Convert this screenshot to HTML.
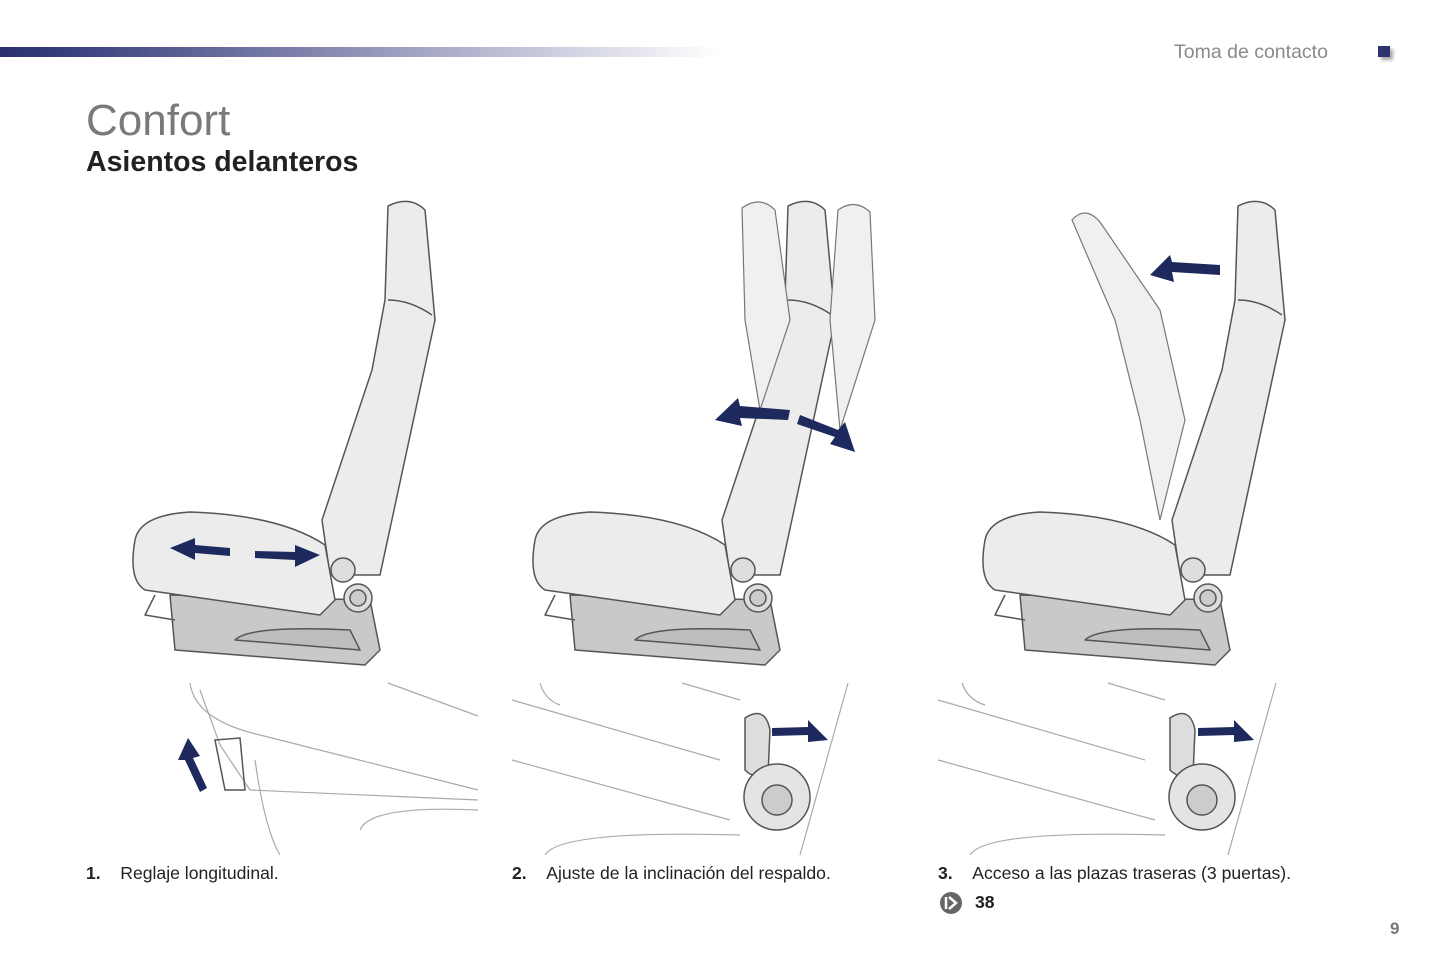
<!DOCTYPE html>
<html><head><meta charset="utf-8"><style>
body{margin:0;width:1445px;height:964px;background:#fff;position:relative;overflow:hidden;font-family:"Liberation Sans",sans-serif}
.t{position:absolute;white-space:nowrap}
</style></head><body>
<div style="position:absolute;left:0;top:47px;width:720px;height:10px;background:linear-gradient(90deg,#2a2f6e 0%,#3a3f7e 10%,#7a7ea8 40%,#c8c9dc 75%,#fff 100%)"></div>
<div class="t" style="left:1174px;top:41px;font-size:19.5px;color:#8a8a8a">Toma de contacto</div>
<div style="position:absolute;left:1378px;top:46px;width:12px;height:11px;background:#2f3470;box-shadow:3px 3px 3px #aaa"></div>
<div class="t" style="left:86px;top:96px;font-size:44px;color:#7a7a7a">Confort</div>
<div class="t" style="left:86px;top:146px;font-size:28.5px;font-weight:bold;color:#222">Asientos delanteros</div>

<svg width="1445" height="964" style="position:absolute;left:0;top:0">
<defs>
<g id="seat" stroke="#555" stroke-width="1.5" stroke-linejoin="round">
  <path d="M170,595 L370,600 L380,650 L365,665 L175,650 Z" fill="#c9c9c9"/>
  <path d="M235,640 Q250,625 350,630 L360,650 Z" fill="#bdbdbd"/>
  <path d="M155,595 L145,615 L175,620" fill="none"/>
  <path d="M388,206 Q410,195 425,210 L435,320 L380,575 L330,575 L322,520 L372,370 L385,300 Z" fill="#ececec"/>
  <path d="M388,300 Q410,300 432,315" fill="none"/>
  <path d="M135,540 Q140,515 190,512 Q280,515 325,545 L335,600 L320,615 L145,590 Q128,580 135,540 Z" fill="#ececec"/>
  <circle cx="343" cy="570" r="12" fill="#ddd"/>
  <circle cx="358" cy="598" r="14" fill="#ddd"/>
  <circle cx="358" cy="598" r="8" fill="#ccc"/>
</g>
</defs>
<use href="#seat"/>
<use href="#seat" transform="translate(400,0)"/>
<use href="#seat" transform="translate(850,0)"/>
<g fill="#f0f0f0" stroke="#777" stroke-width="1.2">
 <path d="M742,208 Q760,195 775,210 L790,320 L760,410 L745,320 Z"/>
 <path d="M838,210 Q855,198 870,212 L875,320 L840,430 L830,320 Z"/>
 <path d="M1072,220 Q1085,205 1100,222 L1160,310 L1185,420 L1160,520 L1140,420 L1115,320 Z"/>
</g>
<g fill="#1e2a5e">
 <path d="M170,548 L195,538 L195,545 L230,548 L230,556 L195,553 L195,560 Z"/>
 <path d="M320,555 L295,545 L295,552 L255,551 L255,558 L295,560 L295,567 Z"/>
 <path d="M715,420 L738,398 L740,406 L790,410 L788,420 L740,418 L742,426 Z"/>
 <path d="M855,452 L845,422 L838,430 L800,415 L797,424 L835,437 L830,444 Z"/>
 <path d="M1150,275 L1170,255 L1172,262 L1220,265 L1220,275 L1172,272 L1174,282 Z"/>
 <path d="M188,738 L178,760 L185,760 L200,792 L207,788 L193,758 L200,756 Z"/>
 <path d="M828,740 L808,720 L808,727 L772,728 L772,736 L808,735 L808,742 Z"/>
 <path d="M1254,740 L1234,720 L1234,727 L1198,728 L1198,736 L1234,735 L1234,742 Z"/>
</g>
<g fill="none" stroke="#aaa" stroke-width="1.2">
 <path d="M190,683 Q195,720 260,735 L478,790"/><path d="M388,683 L478,716"/>
 <path d="M200,690 L220,745 L250,790 L478,800"/>
 <path d="M255,760 Q265,830 280,855"/><path d="M360,830 Q370,805 478,810"/>
 <path d="M512,700 L720,760"/><path d="M512,760 L730,820"/><path d="M540,683 Q545,700 560,705"/>
 <path d="M682,683 L740,700"/><path d="M848,683 L800,855"/><path d="M545,855 Q560,830 740,835"/>
 <path d="M938,700 L1145,760"/><path d="M938,760 L1155,820"/><path d="M962,683 Q968,700 985,705"/>
 <path d="M1108,683 L1165,700"/><path d="M1276,683 L1228,855"/><path d="M970,855 Q985,830 1165,835"/>
</g>
<g stroke="#555" stroke-width="1.5" fill="#ddd">
 <path d="M215,740 L240,738 L245,790 L225,790 Z" fill="none"/>
 <path d="M745,718 Q765,705 770,730 L768,775 Q755,780 745,770 Z"/>
 <circle cx="777" cy="797" r="33" fill="#e4e4e4"/><circle cx="777" cy="800" r="15" fill="#ccc"/>
 <path d="M1170,718 Q1190,705 1195,730 L1193,775 Q1180,780 1170,770 Z"/>
 <circle cx="1202" cy="797" r="33" fill="#e4e4e4"/><circle cx="1202" cy="800" r="15" fill="#ccc"/>
</g>
<circle cx="951" cy="903" r="11" fill="#666"/>
<path d="M946,897 L946,909 M949,897 L956,903 L949,909" stroke="#fff" stroke-width="2.5" fill="none"/>
</svg>

<div class="t" style="left:86px;top:863px;font-size:17.6px;color:#222"><b>1.</b>&nbsp;&nbsp;&nbsp;&nbsp;Reglaje longitudinal.</div>
<div class="t" style="left:512px;top:863px;font-size:17.6px;color:#222"><b>2.</b>&nbsp;&nbsp;&nbsp;&nbsp;Ajuste de la inclinación del respaldo.</div>
<div class="t" style="left:938px;top:863px;font-size:17.6px;color:#222"><b>3.</b>&nbsp;&nbsp;&nbsp;&nbsp;Acceso a las plazas traseras (3 puertas).</div>
<div class="t" style="left:975px;top:892px;font-size:17.6px;font-weight:bold;color:#222">38</div>
<div class="t" style="left:1390px;top:919px;font-size:17px;font-weight:bold;color:#777">9</div>
</body></html>
